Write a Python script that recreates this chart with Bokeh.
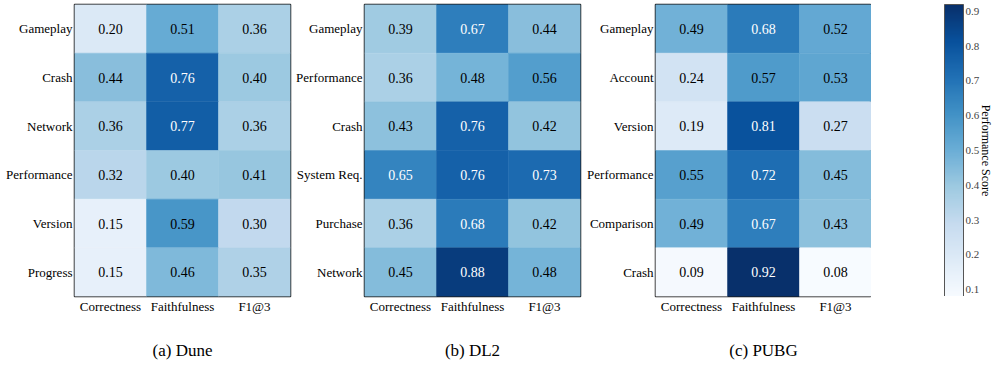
from bokeh.plotting import figure
from bokeh.models import ColumnDataSource, LinearColorMapper, ColorBar, FixedTicker, Title, FactorRange
from bokeh.transform import transform
from bokeh.layouts import row
from bokeh.palettes import Blues256
from bokeh.embed import file_html
from bokeh.resources import INLINE
from bokeh.core.properties import value

metrics = ["Correctness", "Faithfulness", "F1@3"]

dune_aspects = ["Gameplay", "Crash", "Network", "Performance", "Version", "Progress"]
dune_correctness = [0.20, 0.44, 0.36, 0.32, 0.15, 0.15]
dune_faithfulness = [0.51, 0.76, 0.77, 0.40, 0.59, 0.46]
dune_f1 = [0.36, 0.40, 0.36, 0.41, 0.30, 0.35]

dl2_aspects = ["Gameplay", "Performance", "Crash", "System Req.", "Purchase", "Network"]
dl2_correctness = [0.39, 0.36, 0.43, 0.65, 0.36, 0.45]
dl2_faithfulness = [0.67, 0.48, 0.76, 0.76, 0.68, 0.88]
dl2_f1 = [0.44, 0.56, 0.42, 0.73, 0.42, 0.48]

pubg_aspects = ["Gameplay", "Account", "Version", "Performance", "Comparison", "Crash"]
pubg_correctness = [0.49, 0.24, 0.19, 0.55, 0.49, 0.09]
pubg_faithfulness = [0.68, 0.57, 0.81, 0.72, 0.67, 0.92]
pubg_f1 = [0.52, 0.53, 0.27, 0.45, 0.43, 0.08]

colorbar_ticks = [0.1, 0.2, 0.3, 0.4, 0.5, 0.6, 0.7, 0.8, 0.9]
color_low, color_high = 0.08, 0.92

FONT = "Liberation Serif"
mapper = LinearColorMapper(palette=list(reversed(Blues256)), low=color_low, high=color_high)


def panel(aspects, corr, faith, f1, caption, left, right):
    xs, ys, vals = [], [], []
    for a, c, f, g in zip(aspects, corr, faith, f1):
        for m, v in zip(metrics, (c, f, g)):
            xs.append(m)
            ys.append(a)
            vals.append(v)
    colors = ["white" if v > 0.6 else "black" for v in vals]
    labels = [f"{v:.2f}" for v in vals]
    src = ColumnDataSource(dict(x=xs, y=ys, v=vals, c=colors, t=labels))
    p = figure(x_range=FactorRange(factors=metrics),
               y_range=FactorRange(factors=list(reversed(aspects))),
               frame_width=216, frame_height=292,
               output_backend="svg", toolbar_location=None,
               min_border_left=left, min_border_right=right,
               min_border_top=4, min_border_bottom=0)
    p.rect("x", "y", 1, 1, source=src, fill_color=transform("v", mapper),
           line_color=transform("v", mapper), line_width=0.5)
    p.text("x", "y", text="t", source=src, text_color="c", text_align="center",
           text_baseline="middle", text_font=value(FONT), text_font_size="14px")
    for ax in (p.xaxis, p.yaxis):
        ax.axis_line_color = None
        ax.major_tick_line_color = None
        ax.minor_tick_line_color = None
        ax.major_tick_out = 0
        ax.major_tick_in = 0
        ax.minor_tick_out = 0
        ax.minor_tick_in = 0
        ax.major_label_text_font = FONT
        ax.major_label_text_font_size = "13px"
        ax.major_label_text_color = "black"
        ax.major_label_standoff = 2
    p.grid.visible = False
    p.outline_line_color = "#1a1a1a"
    p.outline_line_width = 1.5
    p.outline_line_alpha = 1.0
    t = Title(text=caption, align="center", text_font=FONT, text_font_size="17px",
              text_font_style="normal", text_color="black", standoff=45)
    p.add_layout(t, "below")
    return p


p1 = panel(dune_aspects, dune_correctness, dune_faithfulness, dune_f1, "(a) Dune", 74, 3)
p2 = panel(dl2_aspects, dl2_correctness, dl2_faithfulness, dl2_f1, "(b) DL2", 70, 4)
p3 = panel(pubg_aspects, pubg_correctness, pubg_faithfulness, pubg_f1, "(c) PUBG", 70, 0)

p4 = figure(frame_width=33, frame_height=292, output_backend="svg", toolbar_location=None,
            min_border_left=73, min_border_right=0, min_border_top=4, min_border_bottom=0)
p4.xaxis.visible = False
p4.yaxis.visible = False
p4.grid.visible = False
p4.outline_line_color = None
cb = ColorBar(color_mapper=mapper, ticker=FixedTicker(ticks=colorbar_ticks),
              width=19, height=292, padding=0, margin=0, location=(0, 0),
              major_label_text_font=FONT, major_label_text_font_size="11px",
              major_tick_line_color=None, minor_tick_line_color=None,
              major_tick_out=0, major_tick_in=0,
              bar_line_color="#555555", bar_line_width=1, label_standoff=2,
              border_line_color=None, background_fill_color=None)
p4.add_layout(cb, "center")
ct = Title(text="Performance Score", align="center", text_font=FONT, text_font_size="12px",
           text_font_style="normal", text_color="black", standoff=2)
p4.add_layout(ct, "right")

layout = row(p1, p2, p3, p4)
open("out.html", "w").write(file_html(layout, INLINE))
